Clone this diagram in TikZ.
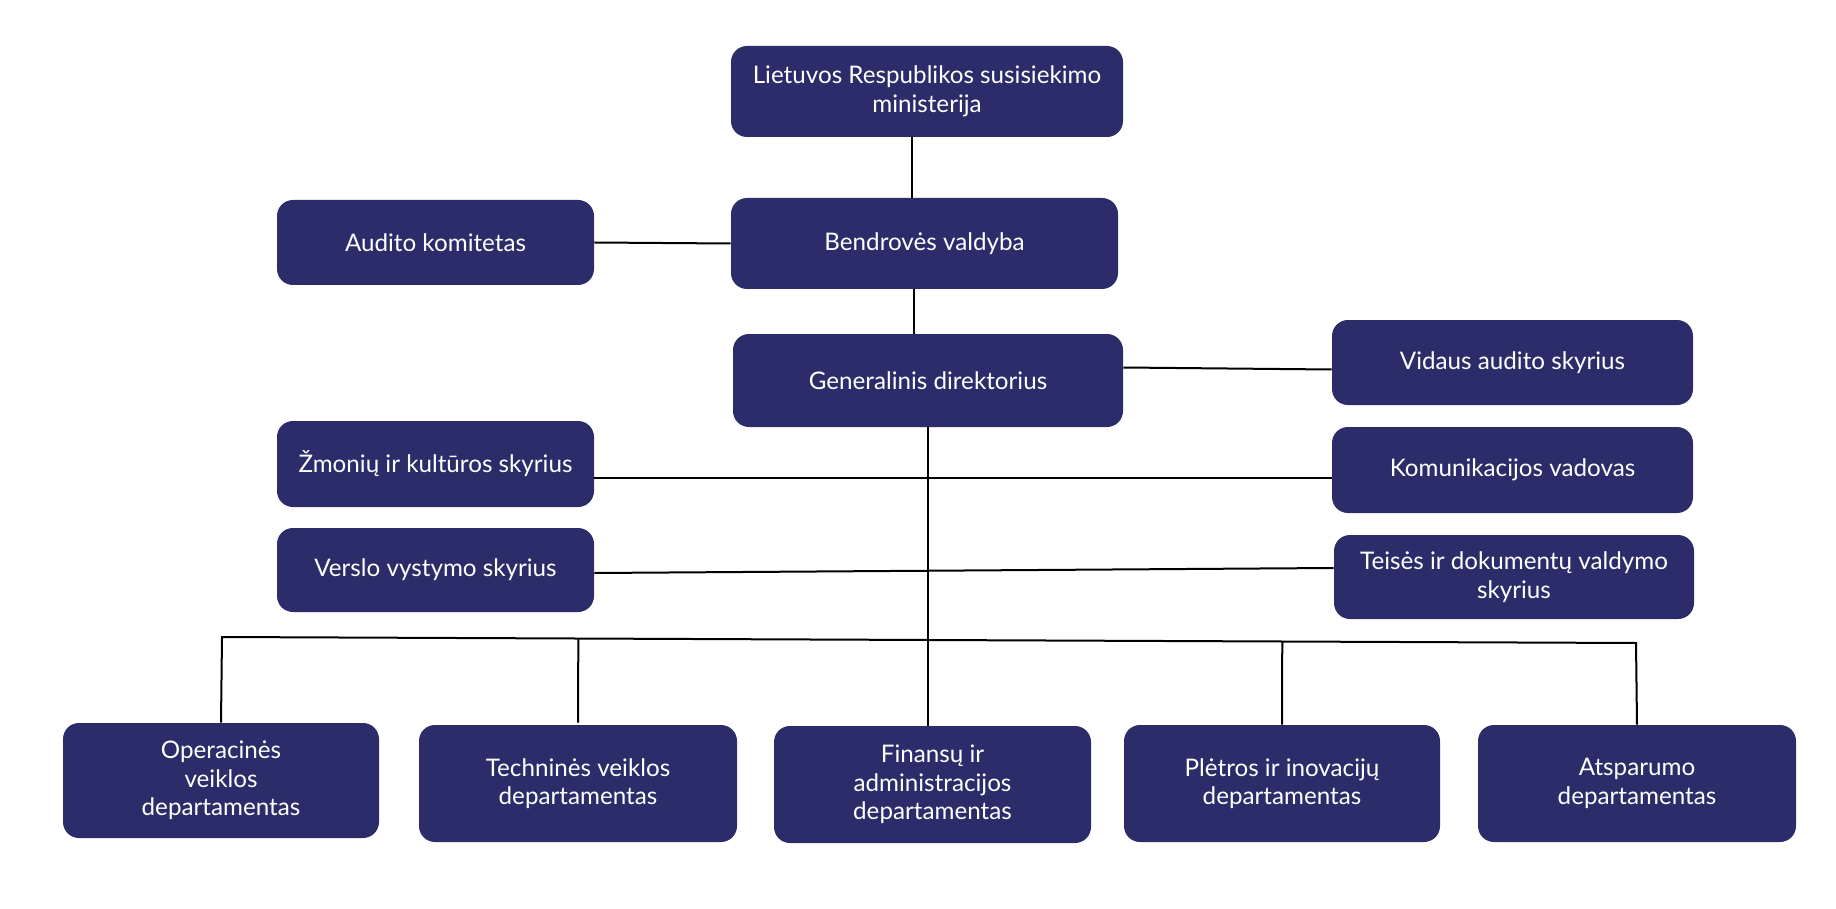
\documentclass[tikz,border=0pt]{standalone}
\usepackage{fontspec}
\setmainfont{Lato}
\usetikzlibrary{calc}
\definecolor{navy}{HTML}{2B2C69}
\tikzset{
  box/.style={fill=navy, draw=none, rounded corners=8pt, text=white, align=center,
    inner sep=0pt, font=\fontsize{12.1}{14.3}\selectfont},
  conn/.style={draw=black, line width=1pt}
}
\begin{document}
\begin{tikzpicture}[x=0.5pt,y=-0.5pt]
\useasboundingbox (0,0) rectangle (1836,909);
\node[box, minimum width=196pt, minimum height=45.5pt] (top) at (927,91.5) {Lietuvos Respublikos susisiekimo\\ministerija};
\node[box, minimum width=193.5pt, minimum height=45.5pt] (bend) at (924.5,243.5) {Bendrovės valdyba};
\node[box, minimum width=195pt, minimum height=46.5pt] (gen) at (928,380.5) {Generalinis direktorius};
\node[box, minimum width=158.5pt, minimum height=42.5pt] (aud) at (435.5,242.5) {Audito komitetas};
\node[box, minimum width=180.5pt, minimum height=42.5pt] (vid) at (1512.5,362.5) {Vidaus audito skyrius};
\node[box, minimum width=158.5pt, minimum height=43pt] (zm) at (435.5,464) {Žmonių ir kultūros skyrius};
\node[box, minimum width=180.5pt, minimum height=43pt] (kom) at (1512.5,470) {Komunikacijos vadovas};
\node[box, minimum width=158.5pt, minimum height=42pt] (ver) at (435.5,570) {Verslo vystymo skyrius};
\node[box, minimum width=180pt, minimum height=42pt] (tei) at (1514,577) {Teisės ir dokumentų valdymo\\skyrius};
\node[box, minimum width=158pt, minimum height=57.5pt] (oper) at (221,780.5) {Operacinės\\veiklos\\departamentas};
\node[box, minimum width=159pt, minimum height=58.5pt] (techn) at (578,783.5) {Techninės veiklos\\departamentas};
\node[box, minimum width=158.5pt, minimum height=58.5pt] (fin) at (932.5,784.5) {Finansų ir\\administracijos\\departamentas};
\node[box, minimum width=158pt, minimum height=58.5pt] (plet) at (1282,783.5) {Plėtros ir inovacijų\\departamentas};
\node[box, minimum width=159pt, minimum height=58.5pt] (atsp) at (1637,783.5) {Atsparumo\\departamentas};
\coordinate (busL) at (222,637);
\coordinate (busR) at (1636,643);
\draw[conn] ([xshift=-7.5pt]top.south) -- ([xshift=-6.25pt]bend.north);
\draw[conn] ([xshift=-5.25pt]bend.south) -- ([xshift=-7pt]gen.north);
\draw[conn] (aud.east) -- (bend.west);
\draw[conn] ([yshift=6.5pt]gen.east) -- ([yshift=-3.5pt]vid.west);
\draw[conn] ([yshift=-7pt]zm.east) -- ([yshift=-4pt]kom.west);
\draw[conn] ([yshift=-1.5pt]ver.east) -- ([yshift=4.5pt]tei.west);
\draw[conn] (gen.south) -- (gen.south |- fin.north);
\draw[conn] (oper.north) -- (busL) -- (busR) -- (atsp.north);
\draw[conn] ([yshift=1pt]techn.north) -- ($(busL)!(techn.north)!(busR)$);
\draw[conn] (plet.north) -- ($(busL)!(plet.north)!(busR)$);
\end{tikzpicture}
\end{document}
